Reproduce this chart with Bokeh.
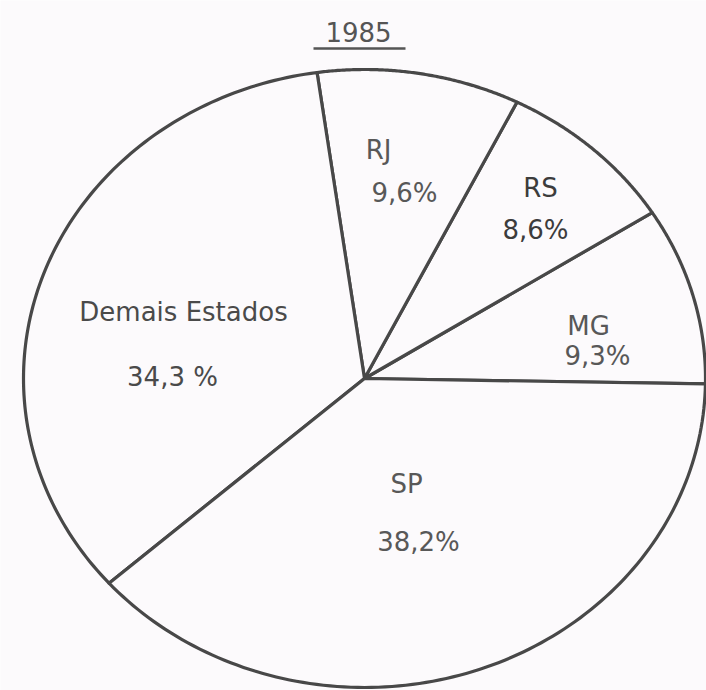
import numpy as np
from bokeh.plotting import figure
from bokeh.models import Range1d, ColumnDataSource
from bokeh.core.properties import value
from bokeh.embed import file_html
from bokeh.resources import INLINE

# ---------------- data ----------------
title_text = "1985"
states = ["MG", "RS", "RJ", "Demais Estados", "SP"]
shares = [9.3, 8.6, 9.6, 34.3, 38.2]
share_labels = ["9,3%", "8,6%", "9,6%", "34,3 %", "38,2%"]

# ---------------- layout / style ----------------
W, H = 706, 690
CX, CY = 364, 378          # pie centre (page pixels)
RX, RY = 341, 309          # the scanned pie is slightly elliptical
START_DEG = -1.0           # first slice starts just below horizontal
name_pos = [(588, 325), (540, 187), (378, 149), (183, 311), (406, 483)]
pct_pos = [(597, 355), (535, 229), (404, 192), (172, 376), (418, 541)]
label_colors = ["#585858", "#3c3c3c", "#585858", "#4a4a4a", "#585858"]
BG = "#fcfafc"
INK = "#484848"
TXT = "#555555"
FONT = "DejaVu Sans"

p = figure(width=W, height=H, output_backend="svg", toolbar_location=None,
           x_range=Range1d(0, W), y_range=Range1d(H, 0),
           min_border=0)
p.axis.visible = False
p.grid.visible = False
p.outline_line_color = None
p.background_fill_color = BG
p.border_fill_color = BG

# slices as elliptical wedges computed from the shares
total = float(sum(shares))
cum = np.concatenate([[0.0], np.cumsum(shares)]) / total
xs, ys = [], []
for i in range(len(shares)):
    t0 = np.deg2rad(START_DEG + 360.0 * cum[i])
    t1 = np.deg2rad(START_DEG + 360.0 * cum[i + 1])
    t = np.linspace(t0, t1, 120)
    xs.append(np.concatenate([[CX], CX + RX * np.cos(t)]).tolist())
    ys.append(np.concatenate([[CY], CY - RY * np.sin(t)]).tolist())

src = ColumnDataSource(dict(xs=xs, ys=ys, state=states))
p.patches("xs", "ys", source=src, fill_color=BG, line_color=INK,
          line_width=3.2, line_join="round")

# labels
lab = ColumnDataSource(dict(
    x=[q[0] for q in name_pos], y=[q[1] for q in name_pos], t=states,
    c=label_colors))
pct = ColumnDataSource(dict(
    x=[q[0] for q in pct_pos], y=[q[1] for q in pct_pos], t=share_labels,
    c=label_colors))
for s in (lab, pct):
    p.text("x", "y", text="t", source=s, text_font=value(FONT),
           text_font_size="26px", text_color="c", text_align="center",
           text_baseline="middle")

# title with underline
p.text(x=[358], y=[31], text=[title_text], text_font=value(FONT),
       text_font_size="26px", text_color=TXT, text_align="center",
       text_baseline="middle")
p.segment(x0=[313], y0=[48], x1=[405], y1=[48], line_color=TXT, line_width=2.5)

open("out.html", "w").write(file_html(p, INLINE))
